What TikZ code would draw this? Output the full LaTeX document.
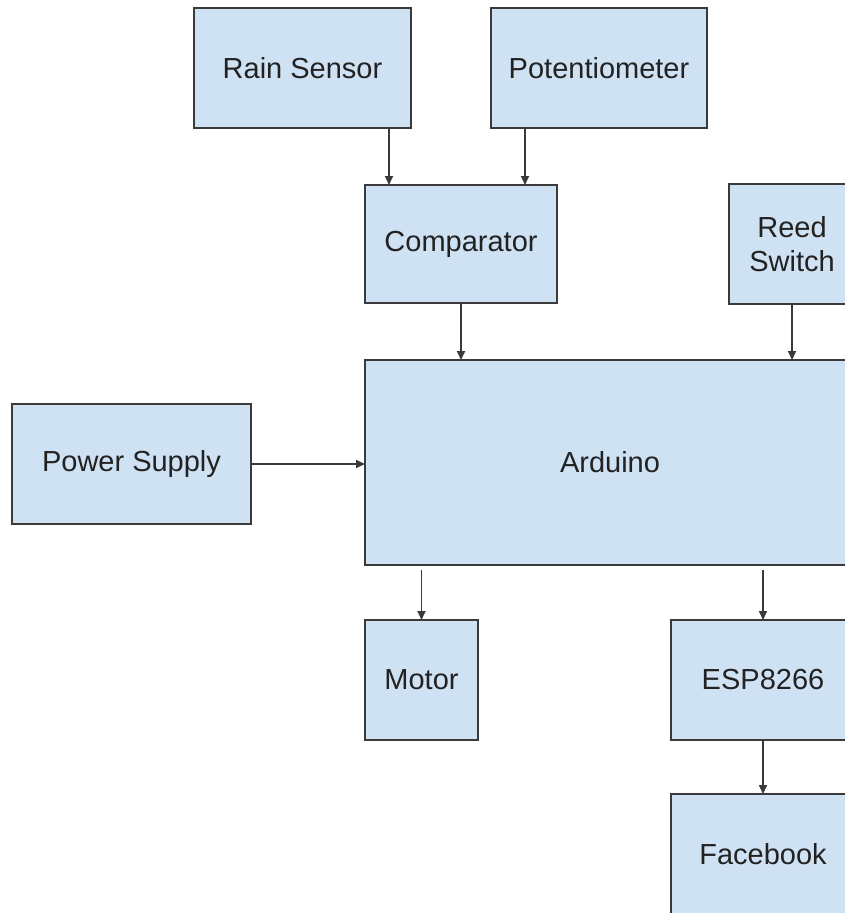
\documentclass[tikz,border=0pt]{standalone}
\usepackage{fontspec}
\setmainfont{Liberation Sans}
\usetikzlibrary{arrows.meta}
\definecolor{boxfill}{HTML}{CFE2F3}
\definecolor{boxline}{HTML}{3A3A3A}
\definecolor{txt}{HTML}{222222}
\tikzset{
  block/.style={draw=boxline, fill=boxfill, line width=2pt, inner sep=0pt, outer sep=0pt,
    text=txt, align=center, font=\fontsize{29}{34}\selectfont},
  arr/.style={draw=boxline, line width=1.8pt, -{Triangle[length=9pt,width=8pt]}}
}
\begin{document}
\begin{tikzpicture}[x=1pt, y=-1pt]
    \useasboundingbox (0,0) rectangle (845,913);
    \clip (0,0) rectangle (845,913);

    % Blocchi
    \node[block, minimum width=217pt, minimum height=120pt] (rain) at (302.5,68) {Rain Sensor};
    \node[block, minimum width=216pt, minimum height=120pt] (pot) at (599,68) {Potentiometer};
    \node[block, minimum width=192pt, minimum height=118pt] (comp) at (461,244) {Comparator};
    \node[block, minimum width=126pt, minimum height=120pt] (reed) at (792,244) {Reed\\Switch};
    \node[block, minimum width=490pt, minimum height=205pt] (ard) at (610,462.5) {Arduino};
    \node[block, minimum width=239pt, minimum height=120pt] (power) at (131.5,464) {Power Supply};
    \node[block, minimum width=113pt, minimum height=120pt] (motor) at (421.5,680) {Motor};
    \node[block, minimum width=184pt, minimum height=120pt] (esp) at (763,680) {ESP8266};
    \node[block, minimum width=184pt, minimum height=120pt] (fb) at (763,854) {Facebook};

    % Punti di arrivo sul comparatore
    \coordinate (rainin) at ([xshift=24pt]comp.north west);
    \coordinate (potin) at ([xshift=-32pt]comp.north east);

    % Frecce
    \draw[arr] (rain.south -| rainin) -- (rainin);
    \draw[arr] (pot.south -| potin) -- (potin);
    \draw[arr] (comp.south) -- (comp.south |- ard.north);
    \draw[arr] (reed.south) -- (reed.south |- ard.north);
    \draw[arr] (power.east) -- (power.east -| ard.west);
    \draw[arr] ([yshift=-5pt]ard.south -| motor.north) -- (motor.north);
    \draw[arr] ([yshift=-5pt]ard.south -| esp.north) -- (esp.north);
    \draw[arr] (esp.south) -- (fb.north);

\end{tikzpicture}
\end{document}
